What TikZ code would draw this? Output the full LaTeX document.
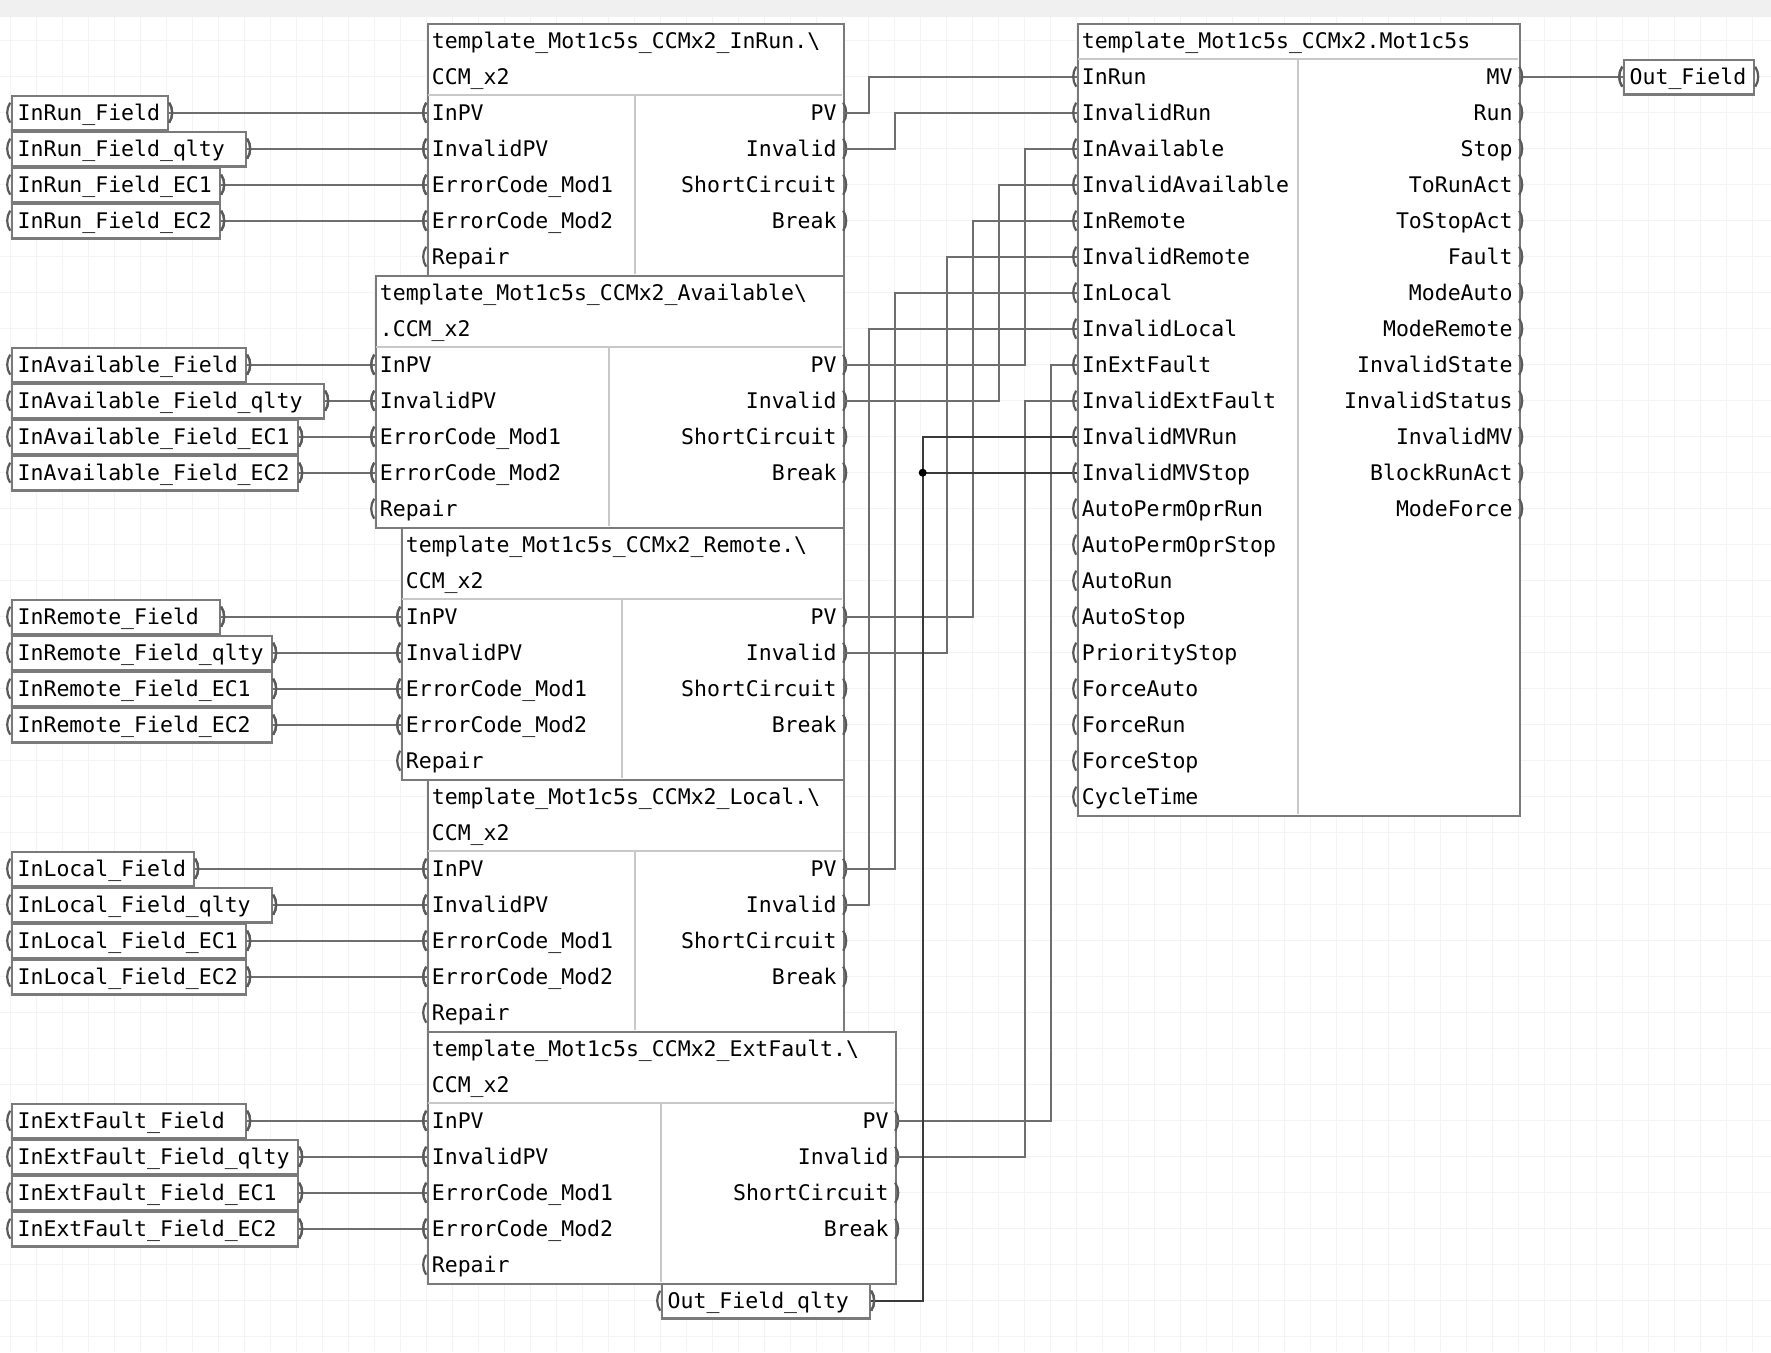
\documentclass[tikz,border=0pt]{standalone}
\usepackage{fontspec}
\setmonofont{DejaVu Sans Mono}
\definecolor{wirec}{HTML}{6E6E6E}
\definecolor{bordc}{HTML}{7A7A7A}
\definecolor{sepc}{HTML}{C8C8C8}
\definecolor{pinc}{HTML}{5A5A5A}
\definecolor{gridc}{HTML}{F4F4F4}
\definecolor{bandc}{HTML}{F0F0F0}
\definecolor{darkwc}{HTML}{3A3A3A}
\tikzset{
  wire/.style={draw=wirec, line width=2pt},
  darkwire/.style={draw=darkwc, line width=2pt},
  blk/.style={draw=bordc, line width=2pt, fill=white, inner sep=0pt, rectangle},
  sepline/.style={draw=sepc, line width=2pt},
  pinst/.style={draw=pinc, line width=2.2pt},
  txt/.style={inner sep=0pt, font=\ttfamily\fontsize{21.5}{25}\selectfont},
  tagbox/.style={draw=bordc, line width=2pt, fill=white, rectangle, minimum height=34pt,
    inner xsep=6pt, inner ysep=0pt, text height=17pt, text depth=1pt, align=left,
    font=\ttfamily\fontsize{21.5}{25}\selectfont},
  gridline/.style={draw=gridc, line width=1.2pt},
}
\newcommand{\lpin}[1]{\draw[pinst] ([shift={(-0.5,-10)}]#1) .. controls +(-4,6) and +(-4,-6) .. ([shift={(-0.5,10)}]#1);}
\newcommand{\rpin}[1]{\draw[pinst] ([shift={(0.5,-10)}]#1) .. controls +(4,6) and +(4,-6) .. ([shift={(0.5,10)}]#1);}
% #1 name, #2 x left, #3 x right, #4 y, #5 text
\newcommand{\ftag}[5]{%
  \pgfmathsetmacro\tagtw{#3-#2-12}%
  \node[tagbox, text width=\tagtw pt, anchor=west] (#1) at (#2,#4) {#5};
  \draw[draw=bordc, line width=3pt] (#1.south west) -- (#1.south east);
  \lpin{#1.west}
  \rpin{#1.east}
}
% #1 name, #2 xl, #3 xr, #4 xdiv, #5 ytop, #6 title1, #7 title2
\newcommand{\subblk}[7]{%
  \pgfmathsetmacro\blkw{#3-#2}%
  \node[blk, minimum width=\blkw pt, minimum height=252pt, anchor=north west] (#1) at (#2,#5) {};
  \draw[sepline] ({#2+1},{#5+72}) -- ({#3-1},{#5+72});
  \draw[sepline] (#4,{#5+73}) -- (#4,{#5+251});
  \node[txt, anchor=base west] (#1-t1) at ({#2+5},{#5+26}) {#6};
  \node[txt, anchor=base west] (#1-t2) at ({#2+5},{#5+62}) {#7};
  \foreach \lab [count=\i] in {InPV,InvalidPV,ErrorCode\_Mod1,ErrorCode\_Mod2,Repair} {
    \coordinate (#1-in\i) at (#2,{#5+54+36*\i});
    \node[txt, anchor=base west] (#1-il\i) at ({#2+5},{#5+62+36*\i}) {\lab};
    \lpin{#1-in\i}
  }
  \foreach \lab [count=\i] in {PV,Invalid,ShortCircuit,Break} {
    \coordinate (#1-out\i) at (#3,{#5+54+36*\i});
    \node[txt, anchor=base east] (#1-ol\i) at ({#3-6},{#5+62+36*\i}) {\lab};
    \rpin{#1-out\i}
  }
}
\begin{document}
\begin{tikzpicture}[x=1pt,y=-1pt]
\useasboundingbox (0,0) rectangle (1771,1352);
\fill[white] (0,0) rectangle (1771,1352);
\fill[bandc] (0,0) rectangle (1771,17);
\foreach \k in {0,...,67} { \draw[gridline] ({10.7+26*\k},17) -- ({10.7+26*\k},1352); }
\foreach \k in {1,...,37} { \draw[gridline] (0,{4.7+36*\k}) -- (1771,{4.7+36*\k}); }

% ---------- sub blocks ----------
\subblk{b1}{426.7}{842.7}{634.7}{22.7}{template\_Mot1c5s\_CCMx2\_InRun.\textbackslash}{CCM\_x2}
\subblk{b2}{374.7}{842.7}{608.7}{274.7}{template\_Mot1c5s\_CCMx2\_Available\textbackslash}{.CCM\_x2}
\subblk{b3}{400.7}{842.7}{621.7}{526.7}{template\_Mot1c5s\_CCMx2\_Remote.\textbackslash}{CCM\_x2}
\subblk{b4}{426.7}{842.7}{634.7}{778.7}{template\_Mot1c5s\_CCMx2\_Local.\textbackslash}{CCM\_x2}
\subblk{b5}{426.7}{894.7}{660.7}{1030.7}{template\_Mot1c5s\_CCMx2\_ExtFault.\textbackslash}{CCM\_x2}

% ---------- main block ----------
\node[blk, minimum width=442pt, minimum height=792pt, anchor=north west] (main) at (1076.7,22.7) {};
\draw[sepline] (1077.7,58.7) -- (1517.7,58.7);
\draw[sepline] (1297.7,59.7) -- (1297.7,813.7);
\node[txt, anchor=base west] (main-t) at (1081.7,48.7) {template\_Mot1c5s\_CCMx2.Mot1c5s};
\foreach \lab [count=\i] in {InRun,InvalidRun,InAvailable,InvalidAvailable,InRemote,InvalidRemote,InLocal,InvalidLocal,InExtFault,InvalidExtFault,InvalidMVRun,InvalidMVStop,AutoPermOprRun,AutoPermOprStop,AutoRun,AutoStop,PriorityStop,ForceAuto,ForceRun,ForceStop,CycleTime} {
  \coordinate (m-in\i) at (1076.7,{40.7+36*\i});
  \node[txt, anchor=base west] (m-il\i) at (1081.7,{48.7+36*\i}) {\lab};
}
\foreach \lab [count=\i] in {MV,Run,Stop,ToRunAct,ToStopAct,Fault,ModeAuto,ModeRemote,InvalidState,InvalidStatus,InvalidMV,BlockRunAct,ModeForce} {
  \coordinate (m-out\i) at (1518.7,{40.7+36*\i});
  \node[txt, anchor=base east] (m-ol\i) at (1512.7,{48.7+36*\i}) {\lab};
}

% ---------- tags ----------
\ftag{t1a}{10.7}{166.7}{112.7}{InRun\_Field}
\ftag{t1b}{10.7}{244.7}{148.7}{InRun\_Field\_qlty}
\ftag{t1c}{10.7}{218.7}{184.7}{InRun\_Field\_EC1}
\ftag{t1d}{10.7}{218.7}{220.7}{InRun\_Field\_EC2}
\ftag{t2a}{10.7}{244.7}{364.7}{InAvailable\_Field}
\ftag{t2b}{10.7}{322.7}{400.7}{InAvailable\_Field\_qlty}
\ftag{t2c}{10.7}{296.7}{436.7}{InAvailable\_Field\_EC1}
\ftag{t2d}{10.7}{296.7}{472.7}{InAvailable\_Field\_EC2}
\ftag{t3a}{10.7}{218.7}{616.7}{InRemote\_Field}
\ftag{t3b}{10.7}{270.7}{652.7}{InRemote\_Field\_qlty}
\ftag{t3c}{10.7}{270.7}{688.7}{InRemote\_Field\_EC1}
\ftag{t3d}{10.7}{270.7}{724.7}{InRemote\_Field\_EC2}
\ftag{t4a}{10.7}{192.7}{868.7}{InLocal\_Field}
\ftag{t4b}{10.7}{270.7}{904.7}{InLocal\_Field\_qlty}
\ftag{t4c}{10.7}{244.7}{940.7}{InLocal\_Field\_EC1}
\ftag{t4d}{10.7}{244.7}{976.7}{InLocal\_Field\_EC2}
\ftag{t5a}{10.7}{244.7}{1120.7}{InExtFault\_Field}
\ftag{t5b}{10.7}{296.7}{1156.7}{InExtFault\_Field\_qlty}
\ftag{t5c}{10.7}{296.7}{1192.7}{InExtFault\_Field\_EC1}
\ftag{t5d}{10.7}{296.7}{1228.7}{InExtFault\_Field\_EC2}
\ftag{tOQ}{660.7}{868.7}{1300.7}{Out\_Field\_qlty}
\ftag{tOut}{1622.7}{1752.7}{76.7}{Out\_Field}

% ---------- wires: tags to sub blocks ----------
\foreach \g in {1,...,5} {
  \foreach \p/\n in {a/1,b/2,c/3,d/4} {
    \draw[wire] (t\g\p.east) -- (b\g-in\n);
  }
}
% ---------- wires: sub blocks to main ----------
\draw[wire] (b1-out1) -- ++(26,0) |- (m-in1);
\draw[wire] (b1-out2) -- ++(52,0) |- (m-in2);
\draw[wire] (b2-out1) -- ++(182,0) |- (m-in3);
\draw[wire] (b2-out2) -- ++(156,0) |- (m-in4);
\draw[wire] (b3-out1) -- ++(130,0) |- (m-in5);
\draw[wire] (b3-out2) -- ++(104,0) |- (m-in6);
\draw[wire] (b4-out1) -- ++(52,0) |- (m-in7);
\draw[wire] (b4-out2) -- ++(26,0) |- (m-in8);
\draw[wire] (b5-out1) -- ++(156,0) |- (m-in9);
\draw[wire] (b5-out2) -- ++(130,0) |- (m-in10);
\draw[darkwire] (tOQ.east) -- ++(52,0) |- (m-in11);
\draw[darkwire] (tOQ.east) -- ++(52,0) |- (m-in12);
\coordinate (jn) at ([xshift=52pt]tOQ.east |- m-in12);
\fill[black] (jn) circle[radius=4pt];
\draw[wire] (m-out1) -- (tOut.west);

% ---------- pins of main block ----------
\foreach \i in {1,...,21} { \lpin{m-in\i} }
\foreach \i in {1,...,13} { \rpin{m-out\i} }
\foreach \g in {1,...,5} {
  \foreach \p/\n in {a/1,b/2,c/3,d/4} {
    \lpin{b\g-in\n}
    \rpin{t\g\p.east}
  }
}
\rpin{tOQ.east}
\lpin{tOut.west}
\end{tikzpicture}
\end{document}
